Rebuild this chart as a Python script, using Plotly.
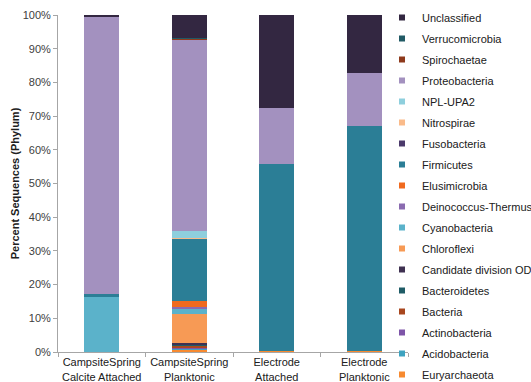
import plotly.graph_objects as go

categories = ["CampsiteSpring<br>Calcite Attached", "CampsiteSpring<br>Planktonic",
              "Electrode<br>Attached", "Electrode<br>Planktonic"]

# stacking order, bottom to top
phyla = ["Euryarchaeota", "Acidobacteria", "Actinobacteria", "Bacteria", "Bacteroidetes",
         "Candidate division OD1", "Chloroflexi", "Cyanobacteria", "Deinococcus-Thermus",
         "Elusimicrobia", "Firmicutes", "Fusobacteria", "Nitrospirae", "NPL-UPA2",
         "Proteobacteria", "Spirochaetae", "Verrucomicrobia", "Unclassified"]

colors = ["#F78A30", "#3EA3C0", "#7E55A8", "#A8471F", "#1F5C66",
          "#3F3151", "#F79A55", "#5BB2CA", "#8A6BB0",
          "#F06A1F", "#2B7E96", "#4B3A6B", "#FABB8A", "#8ECFDD",
          "#A391BF", "#8E3A1C", "#215A65", "#332741"]

# percent values per phylum: [Calcite Attached, Spring Planktonic, Electrode Attached, Electrode Planktonic]
values = {
    "Euryarchaeota":          [0.0, 0.6, 0.2, 0.2],
    "Acidobacteria":          [0.0, 0.4, 0.0, 0.0],
    "Actinobacteria":         [0.0, 0.4, 0.0, 0.0],
    "Bacteria":               [0.0, 0.4, 0.0, 0.0],
    "Bacteroidetes":          [0.0, 0.4, 0.0, 0.0],
    "Candidate division OD1": [0.0, 0.4, 0.0, 0.0],
    "Chloroflexi":            [0.0, 8.6, 0.0, 0.0],
    "Cyanobacteria":          [16.4, 1.8, 0.0, 0.0],
    "Deinococcus-Thermus":    [0.0, 0.5, 0.0, 0.0],
    "Elusimicrobia":          [0.0, 1.6, 0.0, 0.0],
    "Firmicutes":             [0.9, 18.5, 55.5, 66.8],
    "Fusobacteria":           [0.0, 0.15, 0.0, 0.0],
    "Nitrospirae":            [0.0, 0.2, 0.0, 0.0],
    "NPL-UPA2":               [0.0, 1.9, 0.0, 0.0],
    "Proteobacteria":         [82.0, 56.9, 16.8, 15.7],
    "Spirochaetae":           [0.0, 0.3, 0.0, 0.0],
    "Verrucomicrobia":        [0.0, 0.2, 0.0, 0.0],
    "Unclassified":           [0.7, 6.75, 27.5, 17.3],
}

yticks = [0, 10, 20, 30, 40, 50, 60, 70, 80, 90, 100]
ytick_labels = [f"{v}%" for v in yticks]

fig = go.Figure()
for p, c in zip(phyla, colors):
    fig.add_trace(go.Bar(
        x=categories, y=values[p], name=p,
        marker=dict(color=c, line=dict(width=0)),
        legendgroup=p, showlegend=False,
    ))

# legend entries (small square keys), listed top to bottom = reverse stacking order
for p, c in zip(phyla[::-1], colors[::-1]):
    fig.add_trace(go.Scatter(
        x=[None], y=[None], mode="markers", name=p, legendgroup=p,
        marker=dict(symbol="square", size=6, color=c, line=dict(width=0)),
        hoverinfo="skip",
    ))

fig.update_layout(
    barmode="stack",
    bargap=0.6,
    width=531, height=382,
    margin=dict(l=58, r=123, t=15, b=30, autoexpand=False),
    plot_bgcolor="white", paper_bgcolor="white",
    font=dict(family="Liberation Sans, Arial, sans-serif", size=11, color="#404040"),
    showlegend=True,
    legend=dict(
        xref="container", yref="container",
        x=382 / 531, y=1.0 - 3 / 382, xanchor="left", yanchor="top",
        font=dict(size=11, color="#202020"),
        tracegroupgap=2, itemwidth=30, traceorder="grouped",
        maxheight=1000,
        bgcolor="rgba(0,0,0,0)", borderwidth=0,
    ),
    xaxis=dict(
        showline=True, linecolor="#A6A6A6", linewidth=1,
        ticks="outside", tickson="boundaries", ticklen=4, tickcolor="#A6A6A6",
        tickangle=0,
        tickfont=dict(size=11, color="#202020"),
        showgrid=False, automargin=False,
    ),
    yaxis=dict(
        range=[0, 100], tickvals=yticks, ticktext=ytick_labels,
        showline=True, linecolor="#A6A6A6", linewidth=1,
        ticks="outside", ticklen=4, tickcolor="#A6A6A6",
        tickfont=dict(size=11, color="#404040"),
        showgrid=False, zeroline=False, automargin=False,
        title=dict(text="<b>Percent Sequences (Phylum)</b>", font=dict(size=11, color="#202020"), standoff=0),
    ),
)

fig.write_html("out.html")
